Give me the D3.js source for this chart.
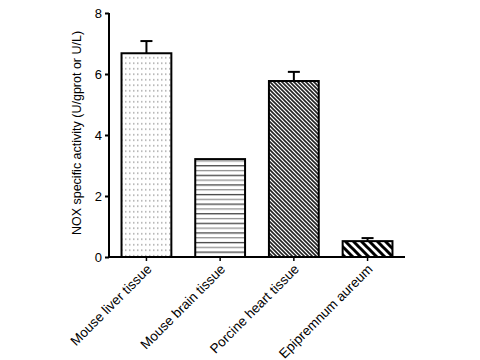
<!DOCTYPE html>
<html><head><meta charset="utf-8">
<script src="https://cdn.jsdelivr.net/npm/d3@7"></script>
<style>body{margin:0;background:#fff}svg{display:block}text{font-family:"Liberation Sans",Arial,sans-serif}</style>
</head><body><svg id="c" width="480" height="360"></svg>
<script>
const categories = ["Mouse liver tissue","Mouse brain tissue","Porcine heart tissue","Epipremnum aureum"];
const values = [6.68, 3.21, 5.77, 0.52];
const errors = [0.40, 0, 0.30, 0.10];
const yTicks = [0,2,4,6,8];
const patterns = ["dots","hlines","dense","stripes"];

const svg = d3.select("#c");
const m = {left:109, top:13, right:405, bottom:257};
const x = d3.scaleBand().domain(categories).range([m.left, m.right]).paddingInner(0.324).paddingOuter(0.17);
const y = d3.scaleLinear().domain([0,8]).range([m.bottom, m.top]);

const defs = svg.append("defs");
let p = defs.append("pattern").attr("id","dots").attr("patternUnits","userSpaceOnUse").attr("width",4).attr("height",5.5);
p.append("rect").attr("x",1).attr("y",2).attr("width",1.5).attr("height",1.5).attr("fill","#aaa");
p = defs.append("pattern").attr("id","hlines").attr("patternUnits","userSpaceOnUse").attr("width",10).attr("height",9.6);
p.append("rect").attr("x",0).attr("y",2).attr("width",10).attr("height",1.2).attr("fill","#333");
p.append("rect").attr("x",0).attr("y",6.8).attr("width",10).attr("height",1.2).attr("fill","#888");
p = defs.append("pattern").attr("id","dense").attr("patternUnits","userSpaceOnUse").attr("width",4).attr("height",4);
p.append("rect").attr("width",4).attr("height",4).attr("fill","#fff");
p.append("path").attr("d","M-1,-1L5,5M-1,3L1,5M3,-1L5,1").attr("stroke","#222").attr("stroke-width",1.6);
p = defs.append("pattern").attr("id","stripes").attr("patternUnits","userSpaceOnUse").attr("width",8).attr("height",8);
p.append("path").attr("d","M-2,-2L10,10M-2,6L2,10M6,-2L10,2").attr("stroke","#000").attr("stroke-width",3);

const g = svg.append("g");
g.selectAll("rect.bar").data(categories).join("rect").attr("class","bar")
  .attr("x",d=>x(d)).attr("width",x.bandwidth())
  .attr("y",(d,i)=>y(values[i])).attr("height",(d,i)=>y(0)-y(values[i]))
  .attr("fill",(d,i)=>`url(#${patterns[i]})`).attr("stroke","#000").attr("stroke-width",2);
categories.forEach((d,i)=>{
  if(!errors[i]) return;
  const cx = x(d)+x.bandwidth()/2;
  g.append("line").attr("x1",cx).attr("x2",cx).attr("y1",y(values[i])).attr("y2",y(values[i]+errors[i])).attr("stroke","#000").attr("stroke-width",2);
  g.append("line").attr("x1",cx-6).attr("x2",cx+6).attr("y1",y(values[i]+errors[i])).attr("y2",y(values[i]+errors[i])).attr("stroke","#000").attr("stroke-width",2);
});

const ya = svg.append("g").attr("transform",`translate(${m.left},0)`)
  .call(d3.axisLeft(y).tickValues(yTicks).tickSize(4).tickPadding(3).tickFormat(d3.format("d")));
ya.select(".domain").attr("stroke","#000").attr("stroke-width",2).attr("d",`M0,${m.top}V${m.bottom}`);
ya.selectAll(".tick line").attr("stroke-width",2);
ya.selectAll(".tick text").attr("font-size",13).attr("fill","#000").attr("font-family","Liberation Sans, Arial, sans-serif");

const xa = svg.append("g").attr("transform",`translate(0,${m.bottom})`)
  .call(d3.axisBottom(x).tickSize(4).tickSizeOuter(0));
xa.select(".domain").attr("stroke","#000").attr("stroke-width",2).attr("d",`M${m.left},0H${m.right}`);
xa.selectAll(".tick line").attr("stroke-width",1.5);
xa.selectAll(".tick text").attr("font-size",13.5).attr("fill","#000").attr("font-family","Liberation Sans, Arial, sans-serif")
  .attr("text-anchor","end").attr("dy",0).attr("y",0)
  .attr("transform","translate(6,13) rotate(-45)");

svg.append("text").attr("transform",`translate(81,${(m.top+m.bottom)/2-2}) rotate(-90)`)
  .attr("text-anchor","middle").attr("font-size",12.5).attr("fill","#000")
  .text("NOX specific activity (U/gprot or U/L)");
</script></body></html>
